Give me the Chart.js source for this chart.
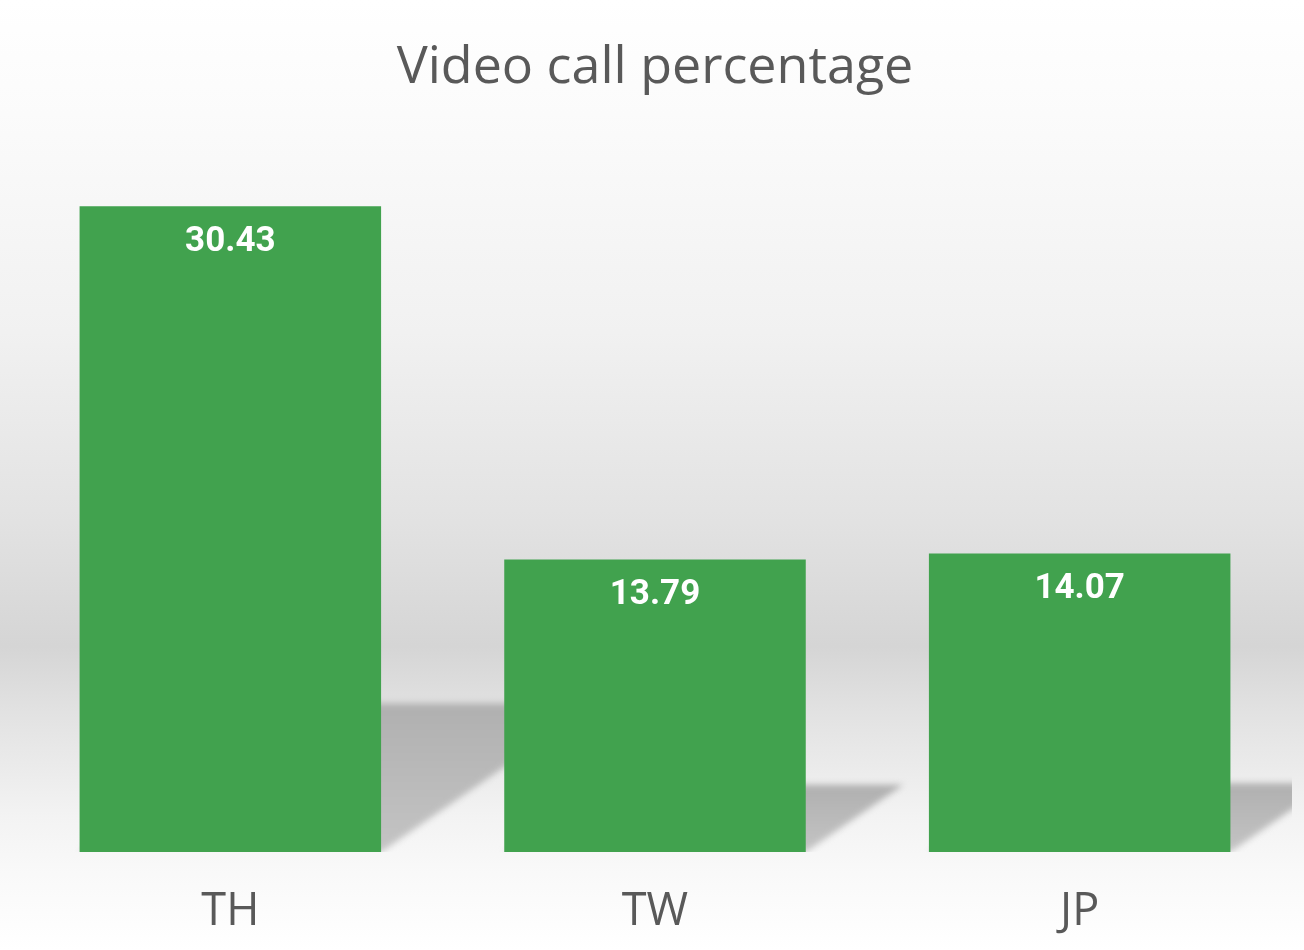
<!DOCTYPE html>
<html>
<head>
<meta charset="utf-8">
<script src="https://cdn.jsdelivr.net/npm/chart.js@4/dist/chart.umd.min.js"></script>
<style>
  html, body { margin: 0; padding: 0; background: #fff; }
  #wrap { width: 1304px; height: 950px; }
</style>
</head>
<body>
<div id="wrap"><canvas id="videoChart"></canvas></div>
<script>
// data
const countries = ['TH', 'TW', 'JP'];
const videoCallPct = [30.43, 13.79, 14.07];
const yMax = 35;

const barGreen = '#41A24E';

// background gradient behind the whole chart
const bgPlugin = {
    id: 'bg',
    beforeDraw(chart) {
        const ctx = chart.ctx;
        const h = chart.height;
        const g = ctx.createLinearGradient(0, 0, 0, h);
        g.addColorStop(0, '#ffffff');
        g.addColorStop(0.12, '#fbfbfb');
        g.addColorStop(0.35, '#f1f1f1');
        g.addColorStop(0.55, '#e2e2e2');
        g.addColorStop(0.68, '#d5d5d5');
        g.addColorStop(0.75, '#e2e2e2');
        g.addColorStop(0.86, '#f3f3f3');
        g.addColorStop(0.92, '#f9f9f9');
        g.addColorStop(1, '#ffffff');
        ctx.save();
        ctx.fillStyle = g;
        ctx.fillRect(0, 0, chart.width, h);
        ctx.restore();
    }
};

// perspective shadow behind each bar
const shadowPlugin = {
    id: 'barShadow',
    beforeDatasetsDraw(chart) {
        const ctx = chart.ctx;
        const area = chart.chartArea;
        const bars = chart.getDatasetMeta(0).data;
        ctx.save();
        ctx.beginPath();
        ctx.rect(area.left, area.top, area.right - area.left, area.bottom - area.top);
        ctx.clip();
        ctx.filter = 'blur(3px)';
        bars.forEach(bar => {
            const left = bar.x - bar.width / 2;
            const right = bar.x + bar.width / 2;
            const h = bar.base - bar.y;
            const sh = h * 0.23;
            const dx = sh * 1.45;
            const g = ctx.createLinearGradient(0, bar.base - sh, 0, bar.base);
            g.addColorStop(0, '#b0b0b0');
            g.addColorStop(1, '#c4c4c4');
            ctx.fillStyle = g;
            ctx.beginPath();
            ctx.moveTo(left, bar.base);
            ctx.lineTo(right, bar.base);
            ctx.lineTo(right + dx, bar.base - sh);
            ctx.lineTo(left + dx, bar.base - sh);
            ctx.closePath();
            ctx.fill();
        });
        ctx.restore();
    }
};

// value labels inside the bars
const valuePlugin = {
    id: 'valueLabels',
    afterDatasetsDraw(chart) {
        const ctx = chart.ctx;
        const bars = chart.getDatasetMeta(0).data;
        ctx.save();
        ctx.fillStyle = '#ffffff';
        ctx.font = 'bold 35px Roboto';
        ctx.textAlign = 'center';
        ctx.textBaseline = 'middle';
        bars.forEach((bar, i) => {
            ctx.fillText(videoCallPct[i].toFixed(2), bar.x, bar.y + 36);
        });
        ctx.restore();
    }
};

const ctxVideo = document.getElementById('videoChart');

const data_video = {
    labels: countries,
    datasets: [{
        label: 'Video call percentage',
        data: videoCallPct,
        backgroundColor: barGreen,
        borderWidth: 0,
        categoryPercentage: 1.0,
        barPercentage: 0.71
    }]
};

const video_config = {
    type: 'bar',
    data: data_video,
    options: {
        responsive: true,
        maintainAspectRatio: false,
        animation: false,
        layout: {
            padding: { left: 18, right: 12, top: 0, bottom: -22 }
        },
        scales: {
            y: {
                display: false,
                min: 0,
                max: yMax
            },
            x: {
                grid: { display: false, drawTicks: false },
                border: { display: false },
                ticks: {
                    color: '#595959',
                    padding: 33,
                    font: {
                        size: 45,
                        family: 'Open Sans'
                    }
                }
            }
        },
        plugins: {
            legend: { display: false },
            tooltip: { enabled: false },
            title: {
                display: true,
                text: 'Video call percentage',
                color: '#595959',
                padding: { top: 37, bottom: 10 },
                font: {
                    size: 52,
                    family: 'Open Sans',
                    weight: 400
                }
            }
        }
    },
    plugins: [bgPlugin, shadowPlugin, valuePlugin]
};

const videoChart = new Chart(ctxVideo, video_config);
</script>
</body>
</html>
